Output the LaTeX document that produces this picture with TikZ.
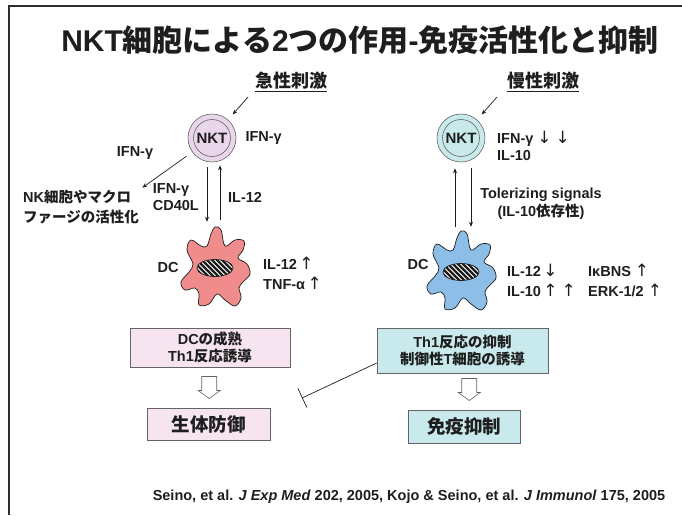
\documentclass[tikz,border=0pt]{standalone}
\usepackage{fontspec}
\setmainfont{Liberation Sans}
\newfontfamily\jp{Noto Sans CJK JP}
\newfontfamily\arw{DejaVu Sans}
\newcommand\up{{\arw\mdseries\fontsize{17}{17}\selectfont ↑}}
\newcommand\dn{{\arw\mdseries\fontsize{17}{17}\selectfont ↓}}
\usetikzlibrary{arrows.meta,positioning,calc}
\definecolor{ink}{RGB}{30,30,30}
\definecolor{frame}{RGB}{45,45,45}
\definecolor{edge}{RGB}{100,100,100}
\definecolor{nktpink}{RGB}{234,214,234}
\definecolor{nktcyan}{RGB}{200,234,234}
\definecolor{dcred}{RGB}{240,140,140}
\definecolor{dcblue}{RGB}{140,190,232}
\definecolor{boxpink}{RGB}{246,228,240}
\definecolor{boxcyan}{RGB}{200,234,236}

% dendritic cell: lobed outline with a hatched nucleus
\newcommand\dcbody[2]{%
  \begin{scope}[shift={#1}]
    \draw[ink,line width=0.7pt,fill=#2] plot[smooth cycle,tension=0.6] coordinates
      {(-4,-34) (0,-41) (6,-38) (10,-22)
       (20,-28) (29,-27) (28,-18) (23,-10)
       (32,-4) (35,6) (28,14) (24,20)
       (26,30) (20,38) (10,32) (2,26)
       (-6,36) (-16,37) (-16,26) (-20,20)
       (-30,22) (-34,14) (-26,4) (-22,-4)
       (-28,-18) (-24,-28) (-14,-22) (-8,-22)};
    \fill[white] (0,0) ellipse [x radius=18pt,y radius=8.5pt];
    \begin{scope}
      \clip (0,0) ellipse [x radius=18pt,y radius=8.5pt];
      \foreach \s in {-30,-25,...,30}
        \draw[line width=2.2pt,ink] (\s-12,-12) -- (\s+12,12);
    \end{scope}
    \draw[ink,line width=0.7pt] (0,0) ellipse [x radius=18pt,y radius=8.5pt];
  \end{scope}}

\tikzset{hollow/.pic={
  \draw[edge,fill=white,line width=0.6pt]
    (-7.5,-11) -- (7.5,-11) -- (7.5,3) -- (11,3) -- (0,11) -- (-11,3) -- (-7.5,3) -- cycle;}}

\begin{document}
\begin{tikzpicture}[x=1pt,y=-1pt,
  font=\bfseries\fontsize{14.5}{17}\selectfont, text=ink,
  lbl/.style={inner sep=0pt,align=left},
  two/.style={font=\bfseries\fontsize{14.5}{20}\selectfont},
  nkt/.style={circle,draw=edge,line width=0.6pt,minimum size=48pt,inner sep=0pt},
  core/.style={circle,draw=edge,line width=0.6pt,minimum size=37pt,inner sep=0pt,
               font=\bfseries\fontsize{15}{18}\selectfont},
  cell/.style={minimum width=66pt,minimum height=80pt,inner sep=0pt},
  stim/.style={font=\bfseries\fontsize{18}{20}\selectfont\jp},
  outcome/.style={draw=edge,line width=0.6pt,align=center,inner sep=0pt},
  big/.style={font=\bfseries\fontsize{18.5}{20}\selectfont\jp},
  ar/.style={-{Stealth[length=5pt,width=4pt]},line width=0.7pt,draw=ink},
  inh/.style={-{Bar[width=21pt]},line width=0.7pt,draw=ink}]

\useasboundingbox (0,0) rectangle (682,515);
\draw[frame,line width=2pt] (682,6) -- (9,6) -- (9,515);

\node (title) at (360,40)
  {\fontsize{30}{32}\selectfont NKT{\jp 細胞による}2{\jp つの作用}-{\jp 免疫活性化と抑制}};

\node[stim] (acute) at (291,82) {\underline{急性刺激}};
\node[stim] (chronic) at (543,82) {\underline{慢性刺激}};

% acute side
\node[nkt,fill=nktpink] (nktA) at (212,138) {};
\node[core] (nktAc) at (nktA) {NKT};
\coordinate (acuteIn) at (248,97);
\draw[ar,shorten >=7pt] (acuteIn) -- (nktA);
\node[lbl,right=9pt of nktA] (ifnA) {IFN-γ};

\node[lbl] (ifnOut) at (135,153) {IFN-γ};
\node[lbl,two,anchor=north west] (nkAct) at (23,190)
  {NK{\jp 細胞やマクロ}\\{\jp ファージの活性化}};
\draw[ar,shorten <=7pt,shorten >=4pt] (nktA) -- (nkAct.north east);

\node[cell] (dcA) at (212,268) {};
\dcbody{(215,268)}{dcred}
\draw[ar] ([xshift=-5pt,yshift=-5pt]nktA.south) -- ([xshift=-5pt,yshift=6pt]dcA.north);
\draw[ar] ([xshift=8pt,yshift=8pt]dcA.north) -- ([xshift=8pt,yshift=-3pt]nktA.south);
\node[lbl,anchor=east] (sigA) at (199,197) {IFN-γ\\CD40L};
\node[lbl,anchor=west] (il12A) at (228,197) {IL-12};
\node[lbl] (dcAl) at (168,267) {DC};
\node[lbl,two,anchor=west] (cytA) at (263,273) {IL-12\,\up\\TNF-α\,\up};

% chronic side
\node[nkt,fill=nktcyan] (nktB) at (461,138) {};
\node[core] (nktBc) at (nktB) {NKT};
\coordinate (chronicIn) at (497,97);
\draw[ar,shorten >=7pt] (chronicIn) -- (nktB);
\node[lbl,anchor=west] (ifnB) at (497,146) {IFN-γ \dn\ \dn\\IL-10};

\node[cell] (dcB) at (461,272) {};
\dcbody{(461,272)}{dcblue}
\draw[ar] ([xshift=-6pt,yshift=5pt]dcB.north) -- ([xshift=-6pt,yshift=-6pt]nktB.south);
\draw[ar] ([xshift=10pt,yshift=-6pt]nktB.south) -- ([xshift=10pt,yshift=5pt]dcB.north);
\node[lbl,align=center,font=\bfseries\fontsize{14.5}{18}\selectfont] (tol) at (541,204)
  {Tolerizing signals\\(IL-10{\jp 依存性})};
\node[lbl] (dcBl) at (418,265) {DC};
\node[lbl,two,anchor=west] (cytB) at (507,280) {IL-12\,\dn\\IL-10\,\up\ \up};
\node[lbl,two,anchor=west] (sigB) at (588,280) {IκBNS \up\\ERK-1/2 \up};

% outcomes
\node[outcome,fill=boxpink,minimum width=160pt,minimum height=39pt] (resA) at (210,347.5)
  {DC{\jp の成熟}\\Th1{\jp 反応誘導}};
\node[outcome,big,fill=boxpink,minimum width=123pt,minimum height=32pt] (endA) at (208.5,424) {生体防御};
\node[outcome,fill=boxcyan,minimum width=171pt,minimum height=45pt] (resB) at (462.5,350.5)
  {Th1{\jp 反応の抑制}\\{\jp 制御性}T{\jp 細胞の誘導}};
\node[outcome,big,fill=boxcyan,minimum width=112pt,minimum height=33pt] (endB) at (464,426.5) {免疫抑制};

\path ($(resA.south)!0.5!(endA.north)$) pic {hollow};
\path ($(resB.south)!0.5!(endB.north)+(6,-2)$) pic {hollow};

\coordinate (stop) at (302,398);
\draw[inh] ([yshift=-12.5pt]resB.west) -- (stop);

\node[font=\bfseries\fontsize{14.5}{16}\selectfont] (cite) at (409,497)
  {Seino, et al. \textit{J Exp Med} 202, 2005, Kojo \& Seino, et al. \textit{J Immunol} 175, 2005};
\end{tikzpicture}
\end{document}
